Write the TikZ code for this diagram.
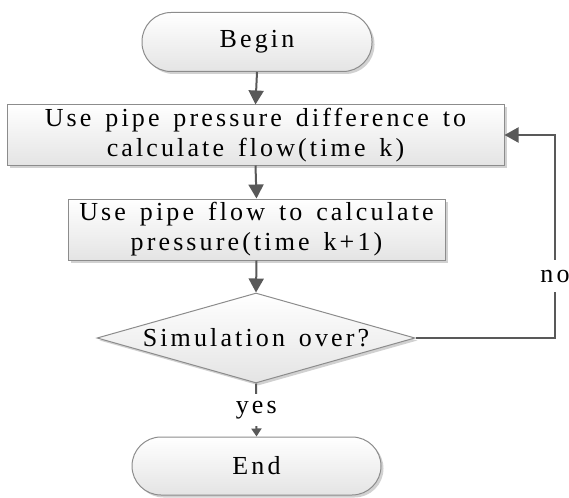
\documentclass[tikz,border=0pt]{standalone}
\usepackage{fontspec}
\setmainfont{Liberation Serif}
\newfontfamily\lsfont[LetterSpace=12,WordSpace=1.45,Ligatures=NoCommon]{Liberation Serif}
\usetikzlibrary{arrows.meta,shapes.geometric,shadows}
\definecolor{bordergray}{HTML}{8C8C8C}
\definecolor{arrowgray}{HTML}{595959}
\definecolor{fillbottom}{HTML}{E4E4E4}
\tikzset{
  flowbox/.style={draw=bordergray, line width=1pt, top color=white, bottom color=fillbottom,
    drop shadow={shadow xshift=2.5pt, shadow yshift=-2.5pt, opacity=0.18, fill=black},
    font=\lsfont\fontsize{26}{30}\selectfont, align=center, inner sep=0pt},
  termbox/.style={flowbox, rectangle, rounded corners=29pt},
  decbox/.style={flowbox, diamond, aspect=3.53},
  arr/.style={draw=arrowgray, line width=2pt, -{Triangle[length=14pt,width=15pt]}},
  smallarr/.style={draw=arrowgray, line width=2pt, -{Triangle[length=8pt,width=10pt]}},
  lbl/.style={fill=white, font=\lsfont\fontsize{26}{30}\selectfont, inner xsep=1pt, inner ysep=0pt}
}
\begin{document}
\begin{tikzpicture}[x=1pt,y=-1pt]
\useasboundingbox (0,0) rectangle (569,497);
\node[termbox, minimum width=230pt, minimum height=59pt] (begin) at (257,42) {Begin};
\node[flowbox, minimum width=497pt, minimum height=60pt] (flow) at (255.5,135)
  {Use pipe pressure difference to\\calculate flow(time k)};
\node[flowbox, minimum width=377pt, minimum height=61pt] (press) at (256.5,229.5)
  {Use pipe flow to calculate\\pressure(time k+1)};
\node[decbox, minimum width=318pt, minimum height=90pt] (dec) at (256,338) {Simulation over?};
\node[termbox, minimum width=249pt, minimum height=58pt] (end) at (256.5,466) {End};
\coordinate (c1) at (555,338);
\coordinate (c2) at (555,135);
\draw[arr] (begin.south) -- (flow.north);
\draw[arr] (flow.south) -- (press.north);
\draw[arr] (press.south) -- (dec.north);
\draw[smallarr] (dec.south) -- node[lbl, minimum height=32pt] (yes) {yes} (end.north);
\draw[arr] (dec.east) -- (c1) -- node[lbl, pos=0.305, minimum height=32pt] (no) {no} (c2) -- (flow.east);
\end{tikzpicture}
\end{document}
